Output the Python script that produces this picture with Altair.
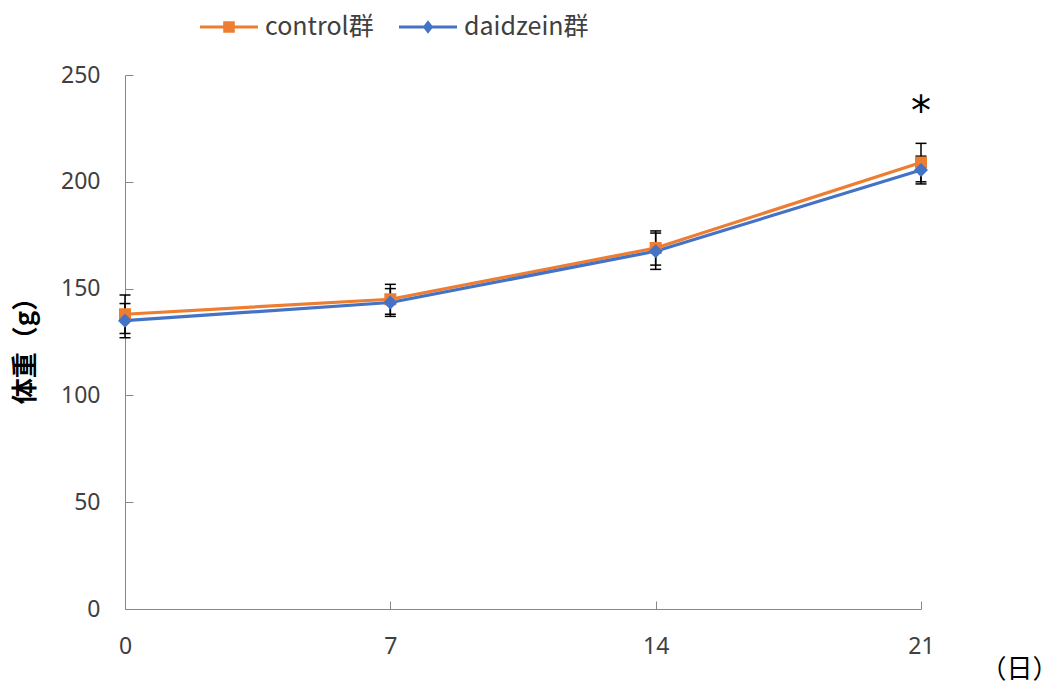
import altair as alt
import pandas as pd

# Body weight over the 21-day feeding period (mean ± SD)
days = [0, 7, 14, 21]
series_names = ["control群", "daidzein群"]
control_mean = [138, 145, 169, 209]
control_sd = [9, 7, 8, 9]
daidzein_mean = [135, 143.5, 167.5, 205.5]
daidzein_sd = [8, 6.5, 8.5, 6.5]

ORANGE = "#ED7D31"
BLUE = "#4472C4"
AXIS_GREY = "#A6A6A6"
TEXT_GREY = "#404040"

rows = []
for name, means, sds in [
    (series_names[0], control_mean, control_sd),
    (series_names[1], daidzein_mean, daidzein_sd),
]:
    for d, m, s in zip(days, means, sds):
        rows.append({"day": d, "series": name, "weight": m, "lo": m - s, "hi": m + s})
df = pd.DataFrame(rows)

# significance marker sits above the control error bar on the last day
sig = pd.DataFrame({"day": [days[-1]], "top": [control_mean[-1] + control_sd[-1]], "label": ["*"]})

# legend symbols: a short line with the series marker in its middle
sq_path = "M-1,-0.05H1V0.05H-1Z M-0.2,-0.2H0.2V0.2H-0.2Z"
dm_path = "M-1,-0.05H1V0.05H-1Z M-0.18,0L0,-0.23L0.18,0L0,0.23Z"

x = alt.X(
    "day:Q",
    scale=alt.Scale(domain=[0, 21], nice=False, zero=False),
    axis=alt.Axis(
        values=days,
        grid=False,
        title="（日）",
        titleFont="Noto Sans CJK JP",
        titleFontSize=26,
        titleFontWeight="normal",
        titleColor="#000000",
        titleX=894,
        titleY=60,
        titleAlign="center",
        titleBaseline="middle",
        labelFont="Noto Sans",
        labelFontSize=23,
        labelColor=TEXT_GREY,
        labelFlush=False,
        labelPadding=34,
        tickSize=alt.ExprRef(expr="-8"),
    ),
)

y = alt.Y(
    "weight:Q",
    scale=alt.Scale(domain=[0, 250], nice=False),
    axis=alt.Axis(
        values=[0, 50, 100, 150, 200, 250],
        grid=False,
        title="体重（g）",
        titleFont="Noto Sans CJK JP",
        titleFontSize=26,
        titleFontWeight="bold",
        titleColor="#000000",
        titleAngle=-90,
        titleX=-100,
        titleY=269,
        titleAlign="center",
        titleBaseline="middle",
        labelFont="Noto Sans",
        labelFontSize=23,
        labelColor=TEXT_GREY,
        labelFlush=False,
        labelPadding=33,
        tickSize=alt.ExprRef(expr="-8"),
    ),
)

base = alt.Chart(df)

err = base.mark_rule(color="black", strokeWidth=1.5).encode(
    x="day:Q", y="lo:Q", y2="hi:Q", detail="series:N"
)
cap_lo = base.mark_rule(color="black", strokeWidth=1.5, xOffset=-5.5, x2Offset=5.5).encode(
    x="day:Q", x2="day:Q", y="lo:Q"
)
cap_hi = base.mark_rule(color="black", strokeWidth=1.5, xOffset=-5.5, x2Offset=5.5).encode(
    x="day:Q", x2="day:Q", y="hi:Q"
)


def series_line(name, colour):
    return base.transform_filter(alt.datum.series == name).mark_line(
        strokeWidth=3.2, color=colour
    ).encode(x=x, y=y, order="day:Q")


def series_points(name, colour, shape, size):
    return base.transform_filter(alt.datum.series == name).mark_point(
        filled=True, opacity=1, color=colour, shape=shape, size=size
    ).encode(x="day:Q", y="weight:Q")


# legend-only layer: carries the colour/shape scales, draws no marks
legend_layer = base.transform_filter("false").mark_point(filled=True, opacity=1).encode(
    x="day:Q",
    y="weight:Q",
    color=alt.Color(
        "series:N",
        scale=alt.Scale(domain=series_names, range=[ORANGE, BLUE]),
        legend=alt.Legend(
            title=None,
            orient="none",
            direction="horizontal",
            columns=2,
            legendX=75,
            legendY=-77,
            padding=0,
            symbolSize=3364,
            symbolStrokeWidth=0,
            symbolOpacity=1,
            labelOffset=7,
            columnPadding=25,
            labelFont="Noto Sans CJK JP",
            labelFontSize=25,
            labelColor=TEXT_GREY,
        ),
    ),
    shape=alt.Shape(
        "series:N",
        scale=alt.Scale(domain=series_names, range=[sq_path, dm_path]),
        legend=alt.Legend(title=None),
    ),
)

star = alt.Chart(sig).mark_text(
    font="DejaVu Sans", fontSize=40, color="black", dy=-30, baseline="middle"
).encode(x="day:Q", y="top:Q", text="label:N")

chart = (
    alt.layer(
        series_line(series_names[0], ORANGE),
        series_line(series_names[1], BLUE),
        err,
        cap_lo,
        cap_hi,
        series_points(series_names[0], ORANGE, "square", 144),
        series_points(series_names[1], BLUE, "diamond", 196),
        star,
        legend_layer,
    )
    .properties(
        width=796,
        height=534,
        autosize=alt.AutoSizeParams(type="none"),
        padding={"left": 125, "top": 75, "right": 141, "bottom": 79},
        view=alt.ViewBackground(stroke="transparent", strokeWidth=0),
    )
    .configure_view(stroke="transparent", strokeWidth=0)
    .configure_axis(
        grid=False,
        domainColor=AXIS_GREY,
        domainWidth=1.5,
        tickColor=AXIS_GREY,
        tickWidth=1.5,
    )
    .configure(background="white")
)

chart.save("out.html", embed_options={"renderer": "svg", "actions": False})
